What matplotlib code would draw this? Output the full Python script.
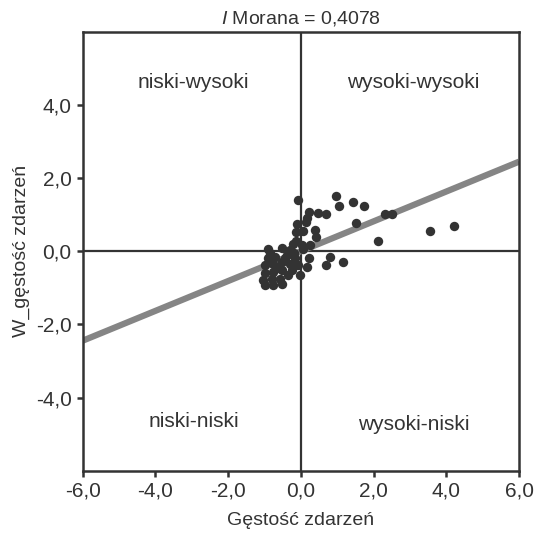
import matplotlib
matplotlib.use('Agg')
import matplotlib.pyplot as plt
from matplotlib.ticker import FuncFormatter
import numpy as np

plt.rcParams['font.family'] = ['Liberation Sans', 'DejaVu Sans']
plt.rcParams['mathtext.fontset'] = 'custom'
plt.rcParams['mathtext.rm'] = 'Liberation Sans'
plt.rcParams['mathtext.it'] = 'Liberation Sans:italic'

# dane
gestosc = [-0.07, 0.97, 1.04, 1.42, 1.74, 1.52, 2.12, 2.30, 2.50, 3.55, 4.22,
           0.22, 0.48, 0.70, 0.17, -0.12, 0.15, 0.07, -0.14, 0.40, 0.42, -0.13,
           -0.21, 0.02, 0.25, 0.22, 0.80, 0.69, 1.15,
           -0.90, -0.53, -0.30, -0.90, -0.71, -0.39, -0.16, -0.99, -0.76, -0.53,
           -0.30, -0.07, 0.16, -0.99, -0.76, -0.53, -0.25, -1.04, -0.80, -0.58,
           -0.35, -0.99, -0.76, -0.53, -0.02, -0.62, -0.45, -0.85, -0.20, 0.05]
w_gestosc = [1.40, 1.51, 1.24, 1.34, 1.24, 0.78, 0.27, 1.02, 1.01, 0.55, 0.69,
             1.07, 1.04, 1.03, 0.90, 0.75, 0.80, 0.55, 0.52, 0.57, 0.39, 0.27,
             0.20, 0.16, 0.16, -0.18, -0.16, -0.38, -0.30,
             0.05, 0.10, 0.02, -0.20, -0.16, -0.11, -0.20, -0.39, -0.34, -0.30,
             -0.34, -0.39, -0.43, -0.61, -0.57, -0.52, -0.52, -0.80, -0.75, -0.75,
             -0.66, -0.93, -0.93, -0.89, -0.66, -0.45, -0.20, -0.05, -0.05, 0.05]
moran_i = 0.4078
kwadranty = ['niski-wysoki', 'wysoki-wysoki', 'niski-niski', 'wysoki-niski']
kw_x = [-2.95, 3.1, -2.95, 3.1]
kw_y = [4.6, 4.6, -4.65, -4.75]

kolor = '#333333'

fig = plt.figure(figsize=(5.39, 5.37), dpi=100)
ax = fig.add_axes([0.1535, 0.1235, 0.8095, 0.8175])

xs = np.array([-6.0, 6.0])
ax.plot(xs, moran_i * xs, color='#858585', lw=4.5, zorder=2, solid_capstyle='butt')
ax.scatter(gestosc, w_gestosc, s=46, color=kolor, zorder=3, linewidths=0)
ax.axhline(0, color=kolor, lw=1.6, zorder=1)
ax.axvline(0, color=kolor, lw=1.6, zorder=1)

for t, x, y in zip(kwadranty, kw_x, kw_y):
    ax.text(x, y, t, ha='center', va='center', fontsize=15, color=kolor)

ax.set_xlim(-6, 6)
ax.set_ylim(-6, 6)
ax.set_xticks([-6, -4, -2, 0, 2, 4, 6])
ax.set_yticks([-4, -2, 0, 2, 4])
fmt = FuncFormatter(lambda v, p: ('%.1f' % v).replace('.', ','))
ax.xaxis.set_major_formatter(fmt)
ax.yaxis.set_major_formatter(fmt)
ax.tick_params(direction='out', length=4, width=1.8, color=kolor,
               labelsize=15, labelcolor=kolor, pad=4)
for s in ax.spines.values():
    s.set_color(kolor)
    s.set_linewidth(1.8)

ax.set_xlabel('Gęstość zdarzeń', fontsize=14, color=kolor, labelpad=8)
ax.set_ylabel('W_gęstość zdarzeń', fontsize=14, color=kolor, labelpad=4)
ax.set_title(r'$\mathit{I}$ Morana = ' + ('%.4f' % moran_i).replace('.', ','),
             fontsize=14, color=kolor, pad=6)

fig.savefig('out.png', dpi=100)
